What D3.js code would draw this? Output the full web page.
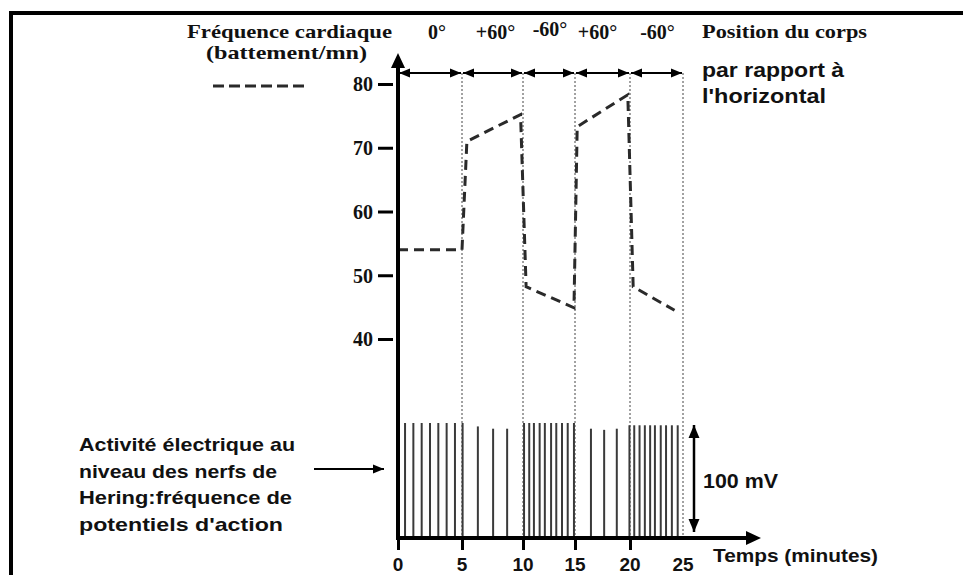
<!DOCTYPE html>
<html>
<head>
<meta charset="utf-8">
<script src="https://cdn.jsdelivr.net/npm/d3@7"></script>
<style>
  html, body { margin: 0; padding: 0; background: #fff; }
  svg { display: block; }
  .serif { font-family: "Liberation Serif", "Times New Roman", serif; font-weight: bold; fill: #111; }
  .sans { font-family: "Liberation Sans", Arial, sans-serif; font-weight: bold; fill: #111; }
</style>
</head>
<body>
<script>
// ---------------- DATA ----------------
const timeTicks = [0, 5, 10, 15, 20, 25];                 // minutes
const heartTicks = [40, 50, 60, 70, 80];                  // battement/mn
const positionLabels = ["0°", "+60°", "-60°", "+60°", "-60°"];
// heart rate curve (time in minutes, rate in battement/mn)
const hrTime  = [0, 5, 5.4, 9.8, 10.3, 14.9, 15.2, 19.8, 20.3, 24.2];
const hrValue = [54, 54, 71, 75.2, 48.2, 44.9, 73.3, 78.3, 48.2, 44.5];
// action potentials (time in minutes, amplitude relative, 100 = full)
const spikeTime = [
  0.55, 1.2, 1.85, 2.5, 3.15, 3.8, 4.45, 5.05,
  6.3, 7.55, 8.7,
  10.1, 10.6, 11.05, 11.6, 12.1, 12.7, 13.2, 13.75, 14.3, 14.9,
  16.45, 17.65, 18.8,
  19.95, 20.4, 20.9, 21.4, 21.9, 22.35, 22.9, 23.4, 23.95, 24.5
];
const spikeAmp = [
  100, 100, 100, 100, 100, 100, 100, 100,
  97, 95, 95,
  100, 100, 100, 100, 100, 100, 100, 100, 100, 100,
  95, 94, 95,
  98, 98, 98, 98, 98, 98, 98, 98, 98, 98
];
const leftText = ["Activité électrique au", "niveau des nerfs de", "Hering:fréquence de", "potentiels d'action"];

// ---------------- SETUP ----------------
const W = 963, H = 575;
const svg = d3.select("body").append("svg").attr("width", W).attr("height", H);

const x = d3.scaleLinear().domain(timeTicks).range([398, 462, 523, 575, 630, 683]);
const y = d3.scaleLinear().domain([40, 80]).range([339, 84]);
const ySpike = d3.scaleLinear().domain([0, 100]).range([537, 423]);
const axisY = 538;

// frame
svg.append("line").attr("x1", 11).attr("y1", 11).attr("x2", 11).attr("y2", H)
  .attr("stroke", "#000").attr("stroke-width", 4);
svg.append("line").attr("x1", 9).attr("y1", 13).attr("x2", W).attr("y2", 13)
  .attr("stroke", "#000").attr("stroke-width", 4);

// markers
const defs = svg.append("defs");
function marker(id, size) {
  defs.append("marker").attr("id", id).attr("viewBox", "0 0 10 10")
    .attr("refX", 10).attr("refY", 5).attr("markerWidth", size).attr("markerHeight", size)
    .attr("markerUnits", "userSpaceOnUse")
    .attr("orient", "auto-start-reverse")
    .append("path").attr("d", "M0,0.8 L10,5 L0,9.2 Z").attr("fill", "#000");
}
marker("arr", 11);
marker("arrBig", 13);

// dotted vertical lines
svg.selectAll("line.dot").data(timeTicks.slice(1)).join("line")
  .attr("class", "dot")
  .attr("x1", d => x(d)).attr("x2", d => x(d))
  .attr("y1", 73).attr("y2", axisY)
  .attr("stroke", "#444").attr("stroke-width", 1).attr("stroke-dasharray", "2,2");

// top double arrows
const segs = d3.pairs(timeTicks);
svg.selectAll("line.seg").data(segs).join("line")
  .attr("class", "seg")
  .attr("x1", d => x(d[0]) + 1).attr("x2", d => x(d[1]) - 1)
  .attr("y1", 73).attr("y2", 73)
  .attr("stroke", "#000").attr("stroke-width", 2)
  .attr("marker-start", "url(#arr)").attr("marker-end", "url(#arr)");

// position labels
const posDx = [7, 3, 1, -5, 1];
svg.selectAll("text.pos").data(positionLabels).join("text")
  .attr("class", "serif pos")
  .attr("x", (d, i) => (x(segs[i][0]) + x(segs[i][1])) / 2 + posDx[i])
  .attr("y", (d, i) => i === 2 ? 36 : 39)
  .attr("text-anchor", "middle")
  .attr("font-size", 20)
  .text(d => d);

// spikes
svg.selectAll("line.spike").data(spikeTime).join("line")
  .attr("class", "spike")
  .attr("x1", d => x(d)).attr("x2", d => x(d))
  .attr("y1", (d, i) => ySpike(spikeAmp[i])).attr("y2", ySpike(0))
  .attr("stroke", "#3a3a3a").attr("stroke-width", 2);

// heart rate dashed line
const line = d3.line().x((d, i) => x(hrTime[i])).y(d => y(d));
svg.append("path").datum(hrValue)
  .attr("d", line)
  .attr("fill", "none").attr("stroke", "#2a2a2a").attr("stroke-width", 3)
  .attr("stroke-dasharray", "10,6");

// y axis (heart rate)
const yAxis = d3.axisLeft(y).tickValues(heartTicks).tickSize(15).tickPadding(5);
const gy = svg.append("g").attr("transform", "translate(393,0)").call(yAxis);
gy.select(".domain").remove();
gy.selectAll(".tick line").attr("stroke", "#000").attr("stroke-width", 3);
gy.selectAll(".tick text").attr("class", "serif").attr("font-size", 20).attr("fill", "#111").attr("dy", "0.34em");

svg.append("line").attr("x1", 398).attr("x2", 398).attr("y1", 64).attr("y2", axisY + 2)
  .attr("stroke", "#000").attr("stroke-width", 4);
svg.append("path").attr("d", "M398,53 L405,68 L391,68 Z").attr("fill", "#000");

// x axis
const xAxis = d3.axisBottom(x).tickValues(timeTicks.slice(0, 5)).tickSize(12).tickFormat("");
const gx = svg.append("g").attr("transform", `translate(0,${axisY})`).call(xAxis);
gx.select(".domain").remove();
gx.selectAll(".tick line").attr("stroke", "#000").attr("stroke-width", 3);

svg.append("line").attr("x1", 396).attr("x2", 750).attr("y1", axisY).attr("y2", axisY)
  .attr("stroke", "#000").attr("stroke-width", 4);
svg.append("path").attr("d", `M761,${axisY} L746,${axisY - 7} L746,${axisY + 7} Z`).attr("fill", "#000");

svg.selectAll("text.xt").data(timeTicks).join("text")
  .attr("class", "sans xt")
  .attr("x", d => x(d)).attr("y", 571)
  .attr("text-anchor", "middle").attr("font-size", 19)
  .text(d => d);

// legend / titles
svg.append("text").attr("class", "serif").attr("x", 187).attr("y", 38).attr("font-size", 19)
  .attr("textLength", 205).attr("lengthAdjust", "spacingAndGlyphs").text("Fréquence cardiaque");
svg.append("text").attr("class", "serif").attr("x", 206).attr("y", 59).attr("font-size", 19)
  .attr("textLength", 161).attr("lengthAdjust", "spacingAndGlyphs").text("(battement/mn)");
svg.append("line").attr("x1", 213).attr("x2", 305).attr("y1", 86).attr("y2", 86)
  .attr("stroke", "#2a2a2a").attr("stroke-width", 3).attr("stroke-dasharray", "11,5");

svg.append("text").attr("class", "serif").attr("x", 702).attr("y", 38).attr("font-size", 19)
  .attr("textLength", 165).attr("lengthAdjust", "spacingAndGlyphs").text("Position du corps");
svg.append("text").attr("class", "sans").attr("x", 702).attr("y", 77).attr("font-size", 20)
  .attr("textLength", 142).attr("lengthAdjust", "spacingAndGlyphs").text("par rapport à");
svg.append("text").attr("class", "sans").attr("x", 702).attr("y", 103).attr("font-size", 20)
  .attr("textLength", 124).attr("lengthAdjust", "spacingAndGlyphs").text("l'horizontal");

// left annotation
const leftLen = [216, 198, 213, 204];
svg.selectAll("text.lt").data(leftText).join("text")
  .attr("class", "sans lt")
  .attr("x", 79).attr("y", (d, i) => 451 + i * 26.5)
  .attr("font-size", 19)
  .attr("textLength", (d, i) => leftLen[i]).attr("lengthAdjust", "spacingAndGlyphs")
  .text(d => d);
svg.append("line").attr("x1", 314).attr("x2", 384).attr("y1", 469).attr("y2", 469)
  .attr("stroke", "#000").attr("stroke-width", 2).attr("marker-end", "url(#arr)");

// 100 mV scale arrow
svg.append("line").attr("x1", 694).attr("x2", 694).attr("y1", ySpike(100) + 2).attr("y2", ySpike(0) - 5)
  .attr("stroke", "#000").attr("stroke-width", 2.5)
  .attr("marker-start", "url(#arrBig)").attr("marker-end", "url(#arrBig)");
svg.append("text").attr("class", "sans").attr("x", 703).attr("y", 488).attr("font-size", 20)
  .attr("textLength", 75).attr("lengthAdjust", "spacingAndGlyphs").text("100 mV");

svg.append("text").attr("class", "sans").attr("x", 713).attr("y", 562).attr("font-size", 19)
  .attr("textLength", 165).attr("lengthAdjust", "spacingAndGlyphs").text("Temps (minutes)");
</script>
</body>
</html>
